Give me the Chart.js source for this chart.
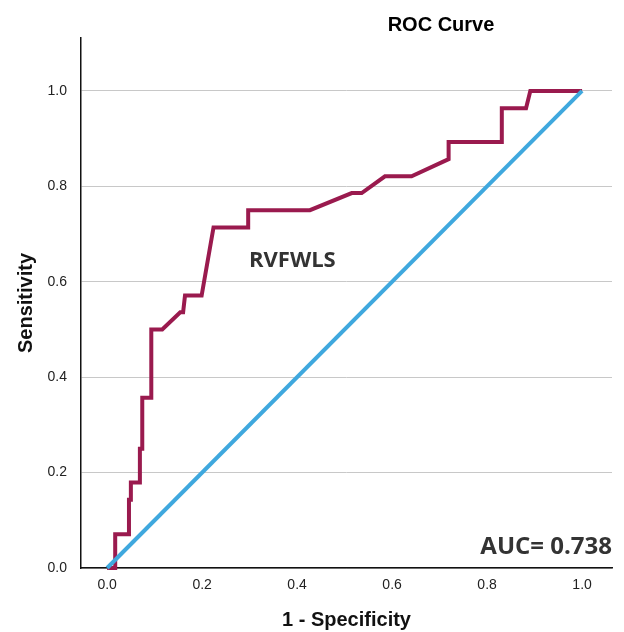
<!DOCTYPE html>
<html>
<head>
<meta charset="utf-8">
<script src="https://cdn.jsdelivr.net/npm/chart.js@4/dist/chart.umd.min.js"></script>
<style>
  html, body { margin: 0; padding: 0; background: #fff; }
  #wrap { width: 624px; height: 632px; }
</style>
</head>
<body>
<div id="wrap"><canvas id="rocChart" width="624" height="632"></canvas></div>
<script>
// ROC curve points (1 - specificity, sensitivity)
const rocFpr = [0, 0.017, 0.017, 0.046, 0.046, 0.05, 0.05, 0.069, 0.069, 0.074, 0.074, 0.093, 0.093, 0.116,
    0.154, 0.16, 0.164, 0.199, 0.224, 0.297, 0.297, 0.427, 0.515, 0.536, 0.585, 0.641, 0.719, 0.719,
    0.831, 0.831, 0.882, 0.891, 1];
const rocTpr = [0, 0, 0.071, 0.071, 0.143, 0.143, 0.179, 0.179, 0.25, 0.25, 0.357, 0.357, 0.5, 0.5,
    0.536, 0.536, 0.571, 0.571, 0.714, 0.714, 0.75, 0.75, 0.786, 0.786, 0.821, 0.821, 0.857, 0.893,
    0.893, 0.964, 0.964, 1, 1];

// reference line
const refFpr = [0, 1];
const refTpr = [0, 1];

const tickValues = [0, 0.2, 0.4, 0.6, 0.8, 1.0];
const curveLabel = 'RVFWLS';
const aucText = 'AUC= 0.738';

const toPoints = (xs, ys) => xs.map((x, i) => ({ x: x, y: ys[i] }));

// draws title and the two annotations
const textPlugin = {
    id: 'rocText',
    afterDatasetsDraw(chart) {
        const ctx = chart.ctx;
        const xs = chart.scales.x;
        const ys = chart.scales.y;
        ctx.save();
        ctx.fillStyle = '#000';
        ctx.font = 'bold 20px "Liberation Sans", Arial, sans-serif';
        ctx.textAlign = 'center';
        ctx.textBaseline = 'middle';
        ctx.fillText('ROC Curve', 441, 25);

        ctx.fillStyle = '#333';
        ctx.font = 'bold 22px "Open Sans", sans-serif';
        ctx.fillText(curveLabel, xs.getPixelForValue(0.39), ys.getPixelForValue(0.644));

        ctx.textAlign = 'right';
        ctx.font = 'bold 24px "Open Sans", sans-serif';
        ctx.fillText(aucText, xs.getPixelForValue(1.063), ys.getPixelForValue(0.044));
        ctx.restore();
    }
};

const ctx = document.getElementById('rocChart').getContext('2d');
const rocChart = new Chart(ctx, {
    type: 'line',
    data: {
        datasets: [{
            data: toPoints(refFpr, refTpr),
            borderColor: '#3fa8de',
            borderWidth: 4,
            pointRadius: 0,
            tension: 0
        }, {
            data: toPoints(rocFpr, rocTpr),
            borderColor: '#9a1a4e',
            borderWidth: 4,
            pointRadius: 0,
            tension: 0,
            borderJoinStyle: 'miter'
        }]
    },
    options: {
        responsive: false,
        animation: false,
        clip: false,
        layout: { padding: { top: 38, right: 12, left: 0, bottom: 0 } },
        plugins: {
            legend: { display: false },
            tooltip: { enabled: false }
        },
        scales: {
            x: {
                type: 'linear',
                min: -0.055,
                max: 1.063,
                afterBuildTicks: scale => { scale.ticks = tickValues.map(v => ({ value: v })); },
                afterFit: scale => { scale.height = 64; },
                grid: { display: false },
                border: { display: true, color: '#111', width: 1.5 },
                ticks: {
                    color: '#222',
                    padding: 1,
                    maxRotation: 0,
                    font: { family: '"Liberation Sans", Arial, sans-serif', size: 14 },
                    callback: v => v.toFixed(1)
                },
                title: {
                    display: true,
                    text: '1 - Specificity',
                    color: '#111',
                    padding: { top: 7, bottom: 0 },
                    font: { family: '"Liberation Sans", Arial, sans-serif', size: 20, weight: 'bold' }
                }
            },
            y: {
                type: 'linear',
                min: 0,
                max: 1.111,
                afterBuildTicks: scale => { scale.ticks = tickValues.map(v => ({ value: v })); },
                afterFit: scale => { scale.width = 81; },
                grid: { color: '#c8c8c8', lineWidth: 1, drawTicks: false },
                border: { display: true, color: '#111', width: 1.5 },
                ticks: {
                    color: '#222',
                    padding: 14,
                    font: { family: '"Liberation Sans", Arial, sans-serif', size: 14 },
                    callback: v => v.toFixed(1)
                },
                title: {
                    display: true,
                    text: 'Sensitivity',
                    color: '#111',
                    padding: { top: 14, bottom: 0 },
                    font: { family: '"Liberation Sans", Arial, sans-serif', size: 20, weight: 'bold' }
                }
            }
        }
    },
    plugins: [textPlugin]
});
</script>
</body>
</html>
